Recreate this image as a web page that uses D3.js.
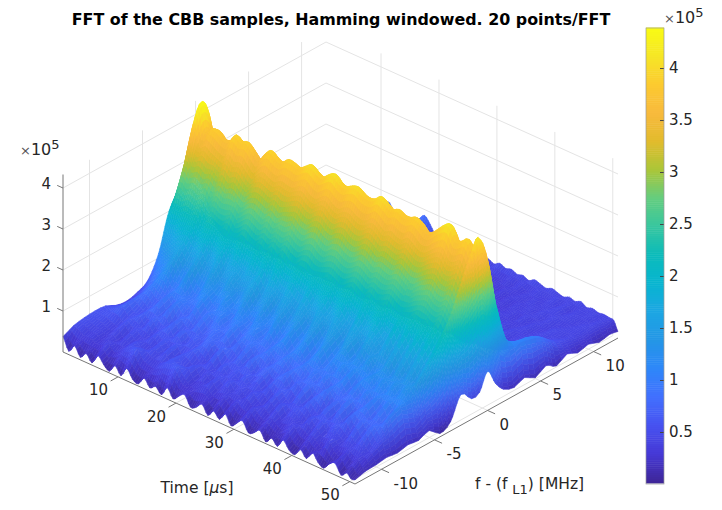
<!DOCTYPE html>
<html>
<head>
<meta charset="utf-8">
<script src="https://cdn.jsdelivr.net/npm/d3@7"></script>
<style>
    body { margin: 0; background: white; }
    text { font-family: "DejaVu Sans", sans-serif; fill: #262626; }
</style>
</head>
<body>
<div id="chart"></div>
<script>
const timesUs = [0.5,1.5,2.5,3.5,4.5,5.5,6.5,7.5,8.5,9.5,10.5,11.5,12.5,13.5,14.5,15.5,16.5,17.5,18.5,19.5,20.5,21.5,22.5,23.5,24.5,25.5,
    26.5,27.5,28.5,29.5,30.5,31.5,32.5,33.5,34.5,35.5,36.5,37.5,38.5,39.5,40.5,41.5,42.5,43.5,44.5,45.5,46.5,47.5,48.5,49.5,50.2,50.9];
const freqsMHz = [-12.5,-11.5,-10.5,-9.5,-8.5,-7.5,-6.5,-5.5,-4.5,-3.5,-2.5,-1.5,-0.75,0,0.75,1.5,2.5,3.5,4.5,5.5,6.5,7.5,8.5,9.5,10.5,11.5,12.3];

// magnitude, in units of 0.01 x 10^5, one row per time
const magRows = [
    [38,50,55,57,55,42,38,45,60,110,200,235,225,250,200,130,70,45,38,35,30,32,28,30,26,30,32],
    [8,44,52,56,58,50,48,60,85,140,225,315,395,436,380,210,95,50,36,33,31,29,30,27,31,28,36],
    [28,36,46,55,64,60,62,78,108,152,222,292,342,372,325,205,100,48,36,32,30,28,30,26,28,30,34],
    [6,38,42,48,70,76,80,92,120,170,232,300,352,385,330,215,108,52,34,30,33,29,27,30,25,33,40],
    [22,30,36,44,54,66,92,112,138,182,226,288,342,385,335,210,98,46,38,28,30,26,31,28,30,29,36],
    [5,34,44,58,60,58,78,118,156,184,236,296,335,372,322,200,102,50,33,31,28,32,26,29,33,27,45],
    [30,44,34,42,66,72,74,94,128,164,214,280,330,375,330,212,110,55,35,29,31,27,29,32,27,31,38],
    [14,30,48,56,50,84,96,100,120,178,232,304,358,395,340,218,105,48,37,33,30,28,33,26,30,35,48],
    [4,38,40,46,72,66,76,124,152,186,226,290,345,385,336,206,96,52,32,30,34,29,27,31,28,30,52],
    [24,50,54,44,54,88,98,96,126,160,220,298,350,390,338,214,108,46,36,28,29,33,30,27,32,36,58],
    [6,58,42,58,62,62,88,92,118,174,234,286,335,375,326,202,100,50,34,32,27,30,28,33,29,38,72],
    [30,64,44,46,72,80,74,112,150,190,218,276,322,360,318,198,94,48,38,30,33,28,31,27,34,40,78],
    [10,42,56,62,54,68,100,118,130,160,224,292,340,380,332,210,104,44,35,31,28,32,29,30,28,34,50],
    [5,36,46,48,76,64,80,100,124,180,238,300,352,395,342,216,100,50,36,30,31,27,30,28,33,30,42],
    [26,34,58,64,52,82,96,96,150,168,228,294,345,385,334,208,96,46,34,33,28,30,27,32,29,28,48],
    [8,52,40,46,68,66,84,122,134,162,222,286,340,380,330,212,104,52,37,29,32,28,31,26,30,33,60],
    [18,58,62,58,58,72,102,104,122,186,236,302,350,392,344,220,110,48,35,31,27,33,29,31,28,42,70],
    [4,62,48,66,72,88,82,98,146,172,226,290,348,390,340,214,102,54,38,30,34,27,30,28,33,50,86],
    [28,66,44,50,78,72,92,126,156,190,240,298,346,385,338,210,98,46,33,32,29,31,26,32,30,44,70],
    [7,46,60,46,54,90,102,106,128,164,230,304,356,395,346,218,106,50,36,28,33,28,32,27,31,36,48],
    [20,32,38,62,80,64,84,98,144,192,244,310,362,405,352,224,112,52,34,33,27,30,29,33,28,32,44],
    [30,30,52,44,62,86,94,124,150,172,232,296,350,395,342,212,100,48,37,30,32,29,27,30,34,30,42],
    [6,42,36,64,58,70,106,106,124,168,226,292,344,388,338,208,98,44,35,31,28,33,30,28,29,35,46],
    [12,46,56,48,74,92,86,100,152,188,238,306,356,400,348,220,108,50,33,29,34,27,31,32,27,33,40],
    [26,32,44,60,60,68,98,130,148,174,242,312,364,408,356,226,114,54,38,32,28,31,28,30,33,28,44],
    [5,28,60,46,82,82,84,102,130,166,230,298,352,395,344,214,102,48,36,30,33,27,32,29,30,34,38],
    [22,40,42,66,56,90,100,108,156,190,228,292,346,390,340,210,96,46,34,33,29,30,27,33,28,31,46],
    [8,26,52,50,72,70,108,130,146,170,236,304,356,398,348,218,104,52,37,28,32,29,31,27,32,30,42],
    [28,44,38,62,76,84,88,104,126,186,240,308,360,402,350,222,110,50,35,31,27,33,28,30,29,36,50],
    [5,34,58,44,60,94,102,118,158,192,232,296,350,392,342,212,100,46,33,30,34,28,30,32,31,33,44],
    [18,30,44,64,74,72,110,132,150,168,226,290,344,388,336,206,94,48,38,32,29,31,36,28,34,38,52],
    [30,48,36,50,84,86,86,102,132,188,234,298,350,392,344,214,102,50,36,35,40,30,28,34,30,36,46],
    [7,36,56,68,58,92,104,120,160,194,244,310,362,404,352,224,112,56,34,30,33,38,32,30,36,33,50],
    [14,28,42,54,78,74,114,134,148,172,236,302,354,395,346,216,106,48,40,36,30,32,37,34,30,40,44],
    [26,42,62,46,66,96,90,106,128,166,226,290,342,385,336,208,98,52,36,32,38,30,33,36,38,34,48],
    [4,32,40,70,86,76,106,124,162,196,238,298,350,392,342,212,102,54,42,34,32,40,36,32,34,42,42],
    [20,24,58,52,60,98,92,136,152,174,228,292,342,385,334,206,100,50,38,40,36,34,30,38,36,35,50],
    [6,40,46,72,76,72,116,110,130,190,232,288,340,385,336,204,96,56,44,36,42,38,35,33,40,38,46],
    [28,46,38,56,90,92,96,128,164,198,240,300,352,392,340,210,104,58,40,34,38,42,36,40,36,44,42],
    [10,30,60,50,62,100,118,114,154,172,230,290,342,385,332,202,98,52,46,42,36,35,40,37,42,38,48],
    [5,26,44,76,80,78,94,138,136,168,222,280,332,370,320,196,92,50,42,38,44,40,34,42,38,40,44],
    [24,44,64,52,68,102,110,112,168,200,226,284,335,375,326,200,96,54,48,40,38,36,44,38,40,46,40],
    [8,34,42,78,94,80,120,122,144,176,236,296,348,390,336,208,102,60,44,42,46,40,36,44,42,38,46],
    [30,24,62,58,64,104,100,140,174,202,244,306,360,405,350,220,110,58,50,40,38,44,42,38,46,44,42],
    [12,48,48,80,84,82,124,118,148,180,248,312,366,412,358,226,116,62,46,44,42,38,40,46,40,36,48],
    [4,30,40,60,96,106,104,144,178,204,238,296,342,382,332,204,104,66,52,48,44,42,38,40,44,42,40],
    [22,22,60,82,70,88,128,124,152,184,234,294,344,385,334,206,112,72,60,54,46,44,46,38,42,40,44],
    [28,40,46,64,90,108,108,148,180,210,246,306,354,396,344,218,126,88,76,64,52,42,44,42,38,44,40],
    [6,26,64,84,72,90,132,128,156,186,230,286,332,372,322,206,130,100,90,78,60,48,40,44,42,38,42],
    [18,36,42,68,98,110,112,152,184,220,262,326,372,408,350,232,128,108,104,92,70,50,44,40,44,42,40],
    [8,24,40,52,60,72,60,78,92,120,170,190,210,230,170,110,90,100,92,84,58,40,36,34,36,34,38],
    [10,17,18,22,18,24,20,30,8,22,75,50,55,95,55,30,20,30,15,30,15,30,18,25,15,20,16]
];

const timeTicks = [10, 20, 30, 40, 50];
const freqTicks = [-10, -5, 0, 5, 10];
const magTicks = [1, 2, 3, 4];
const cbarTicks = [0.5, 1, 1.5, 2, 2.5, 3, 3.5, 4];

// parula, sampled
const parula = ["#3e2698","#4639d6","#4752f0","#4270fe","#2e87f9","#2496e6","#1ca6e3","#08b5d0","#0bbbbb","#37c69f",
    "#64cd7f","#abc639","#e2bb2d","#f8ba3d","#fcca30","#f6e626","#f9fb14"];

const width = 722, height = 510;

let svg = d3.select("#chart").append("svg")
    .attr("width", width)
    .attr("height", height)
    .attr("viewBox", [0, 0, width, height]);

const magTop = 4.33;
let tScale = d3.scaleLinear().domain([0.5, 50.9]).range([0, 1]);
let fScale = d3.scaleLinear().domain([-12.5, 12.3]).range([0, 1]);
let zScale = d3.scaleLinear().domain([0, magTop]).range([0, 1]);

let color = d3.scaleLinear()
    .domain(d3.range(parula.length).map(i => 0.01 + i * (4.38 - 0.01) / (parula.length - 1)))
    .range(parula)
    .clamp(true);

// orthographic box: corner of the floor plus the three edge vectors
const corner = [63, 352], tVec = [292, 132], fVec = [263, -146], zVec = [0, -177.5];

function project(t, f, z) {
    let a = tScale(t), b = fScale(f), c = zScale(z);
    return [corner[0] + a * tVec[0] + b * fVec[0],
            corner[1] + a * tVec[1] + b * fVec[1] + c * zVec[1]];
}

let line = d3.line();
let grid = svg.append("g").attr("fill", "none").attr("stroke", "#e4e4e4").attr("stroke-width", 1);

const [t0, t1] = tScale.domain(), [f0, f1] = fScale.domain();

// walls and floor grid
for (let m of magTicks) {
    grid.append("path").attr("d", line([project(t0, f0, m), project(t0, f1, m), project(t1, f1, m)]));
}
for (let f of freqTicks) {
    grid.append("path").attr("d", line([project(t1, f, 0), project(t0, f, 0), project(t0, f, magTop)]));
}
for (let t of timeTicks) {
    grid.append("path").attr("d", line([project(t, f0, 0), project(t, f1, 0), project(t, f1, magTop)]));
}

// rounded mesh between the read values, like the smooth look of the surf
function spline(a, b, c, d, s) {
    return b + 0.5 * s * (c - a + s * (2 * a - 5 * b + 4 * c - d + s * (3 * (b - c) + d - a)));
}
const rowAt = i => magRows[Math.max(0, Math.min(magRows.length - 1, i))];
const inRow = (row, j) => row[Math.max(0, Math.min(row.length - 1, j))] / 100;
function meshZ(i, j, v, u) {
    let vals = [i - 1, i, i + 1, i + 2].map(k => {
        let r = rowAt(k);
        return spline(inRow(r, j - 1), inRow(r, j), inRow(r, j + 1), inRow(r, j + 2), u);
    });
    return Math.max(0.02, spline(vals[0], vals[1], vals[2], vals[3], v));
}

// back to front: first time rows first, highest frequency first inside a row
let cells = [];
for (let i = 0; i < timesUs.length - 1; i++) {
    for (let j = freqsMHz.length - 2; j >= 0; j--) {
        let z00 = magRows[i][j] / 100, z01 = magRows[i][j + 1] / 100,
            z10 = magRows[i + 1][j] / 100, z11 = magRows[i + 1][j + 1] / 100;
        let nf = Math.max(2, Math.ceil(Math.max(Math.abs(z01 - z00), Math.abs(z11 - z10)) / 0.12));
        let nt = Math.max(3, Math.ceil(Math.max(Math.abs(z10 - z00), Math.abs(z11 - z01)) / 0.12));
        let dt = timesUs[i + 1] - timesUs[i];
        let at = (u, v) => [timesUs[i] + v * dt, freqsMHz[j] + u * (freqsMHz[j + 1] - freqsMHz[j]), meshZ(i, j, v, u)];
        for (let q = 0; q < nt; q++) {
            for (let p = nf - 1; p >= 0; p--) {
                let c = [at(p / nf, q / nt), at((p + 1) / nf, q / nt), at((p + 1) / nf, (q + 1) / nt), at(p / nf, (q + 1) / nt)];
                let z = d3.mean(c, d => d[2]);
                let slope = ((c[2][2] + c[3][2]) - (c[0][2] + c[1][2])) / 2 / (dt / nt);
                // slight lighting, only felt on the low part of the surface
                let shade = Math.max(-0.12, Math.min(0.25, -0.6 * slope)) * Math.max(0, 1 - z / 2.2);
                cells.push({ pts: c.map(d => project(d[0], d[1], d[2])), z: z, shade: shade });
            }
        }
    }
}

const cellFill = d => d3.rgb(color(d.z)).darker(d.shade).formatHex();

svg.append("g").selectAll("path")
    .data(cells)
    .join("path")
    .attr("d", d => line(d.pts) + "Z")
    .attr("fill", cellFill)
    .attr("stroke", cellFill)
    .attr("stroke-width", 0.6)
    .attr("stroke-linejoin", "round");

// box edges
let edges = svg.append("g").attr("fill", "none").attr("stroke", "#777").attr("stroke-width", 1);
edges.append("path").attr("d", line([project(t0, f0, magTop), project(t0, f0, 0), project(t1, f0, 0), project(t1, f1, 0)]));

for (let t of timeTicks) {
    let p = project(t, f0, 0);
    edges.append("path").attr("d", line([p, project(t, f0 - 0.7, 0)]));
    svg.append("text").attr("x", p[0] - 10).attr("y", p[1] + 14)
        .attr("text-anchor", "end").attr("dominant-baseline", "middle").attr("font-size", 15).text(t);
}
for (let f of freqTicks) {
    let p = project(t1, f, 0);
    edges.append("path").attr("d", line([p, project(t1 + 1.3, f, 0)]));
    svg.append("text").attr("x", p[0] + 12).attr("y", p[1] + 15)
        .attr("dominant-baseline", "middle").attr("font-size", 15).text(f);
}
for (let m of magTicks) {
    let p = project(t0, f0, m);
    edges.append("path").attr("d", line([p, project(t0 - 1, f0, m)]));
    svg.append("text").attr("x", 51).attr("y", p[1] - 4)
        .attr("text-anchor", "end").attr("dominant-baseline", "middle").attr("font-size", 15).text(m);
}

function timesTen(x, y) {
    let g = svg.append("text").attr("x", x).attr("y", y).attr("font-size", 16);
    g.append("tspan").attr("font-size", 13).style("fill", "#555").text("×");
    g.append("tspan").text("10");
    g.append("tspan").attr("font-size", 13).attr("dy", -6).text("5");
}
timesTen(20, 155);
timesTen(664, 23);

svg.append("text").attr("x", 341).attr("y", 25)
    .attr("text-anchor", "middle").attr("font-size", 15.9).attr("font-weight", "bold")
    .style("fill", "#000")
    .text("FFT of the CBB samples, Hamming windowed. 20 points/FFT");

svg.append("text").attr("x", 197).attr("y", 493).attr("text-anchor", "middle").attr("font-size", 15.5)
    .html('Time [<tspan font-style="italic">μ</tspan>s]');

let fLabel = svg.append("text").attr("x", 475).attr("y", 489).attr("font-size", 15.5);
fLabel.append("tspan").text("f - (f ");
fLabel.append("tspan").attr("dy", 5).attr("font-size", 13).text("L1");
fLabel.append("tspan").attr("dy", -5).text(") [MHz]");

// colorbar
const barLeft = 646, barWidth = 18;
let cScale = d3.scaleLinear().domain([0, 4.385]).range([484, 28]);

svg.append("g").selectAll("rect")
    .data(d3.range(0.01, 4.385, 0.02))
    .join("rect")
    .attr("x", barLeft)
    .attr("width", barWidth)
    .attr("y", d => cScale(d + 0.02))
    .attr("height", d => cScale(d) - cScale(d + 0.02) + 0.5)
    .attr("fill", d => color(d));

let cAxis = svg.append("g")
    .attr("transform", `translate(${barLeft + barWidth},0)`)
    .call(d3.axisRight(cScale).tickValues(cbarTicks).tickSize(-4).tickPadding(5).tickFormat(String));
cAxis.selectAll("text").attr("font-size", 15).attr("font-family", null);
cAxis.selectAll("line").attr("stroke", "#444");
cAxis.select(".domain").remove();
svg.append("rect").attr("x", barLeft).attr("y", 28).attr("width", barWidth).attr("height", 456)
    .attr("fill", "none").attr("stroke", "#999").attr("stroke-width", 0.7);
</script>
</body>
</html>
